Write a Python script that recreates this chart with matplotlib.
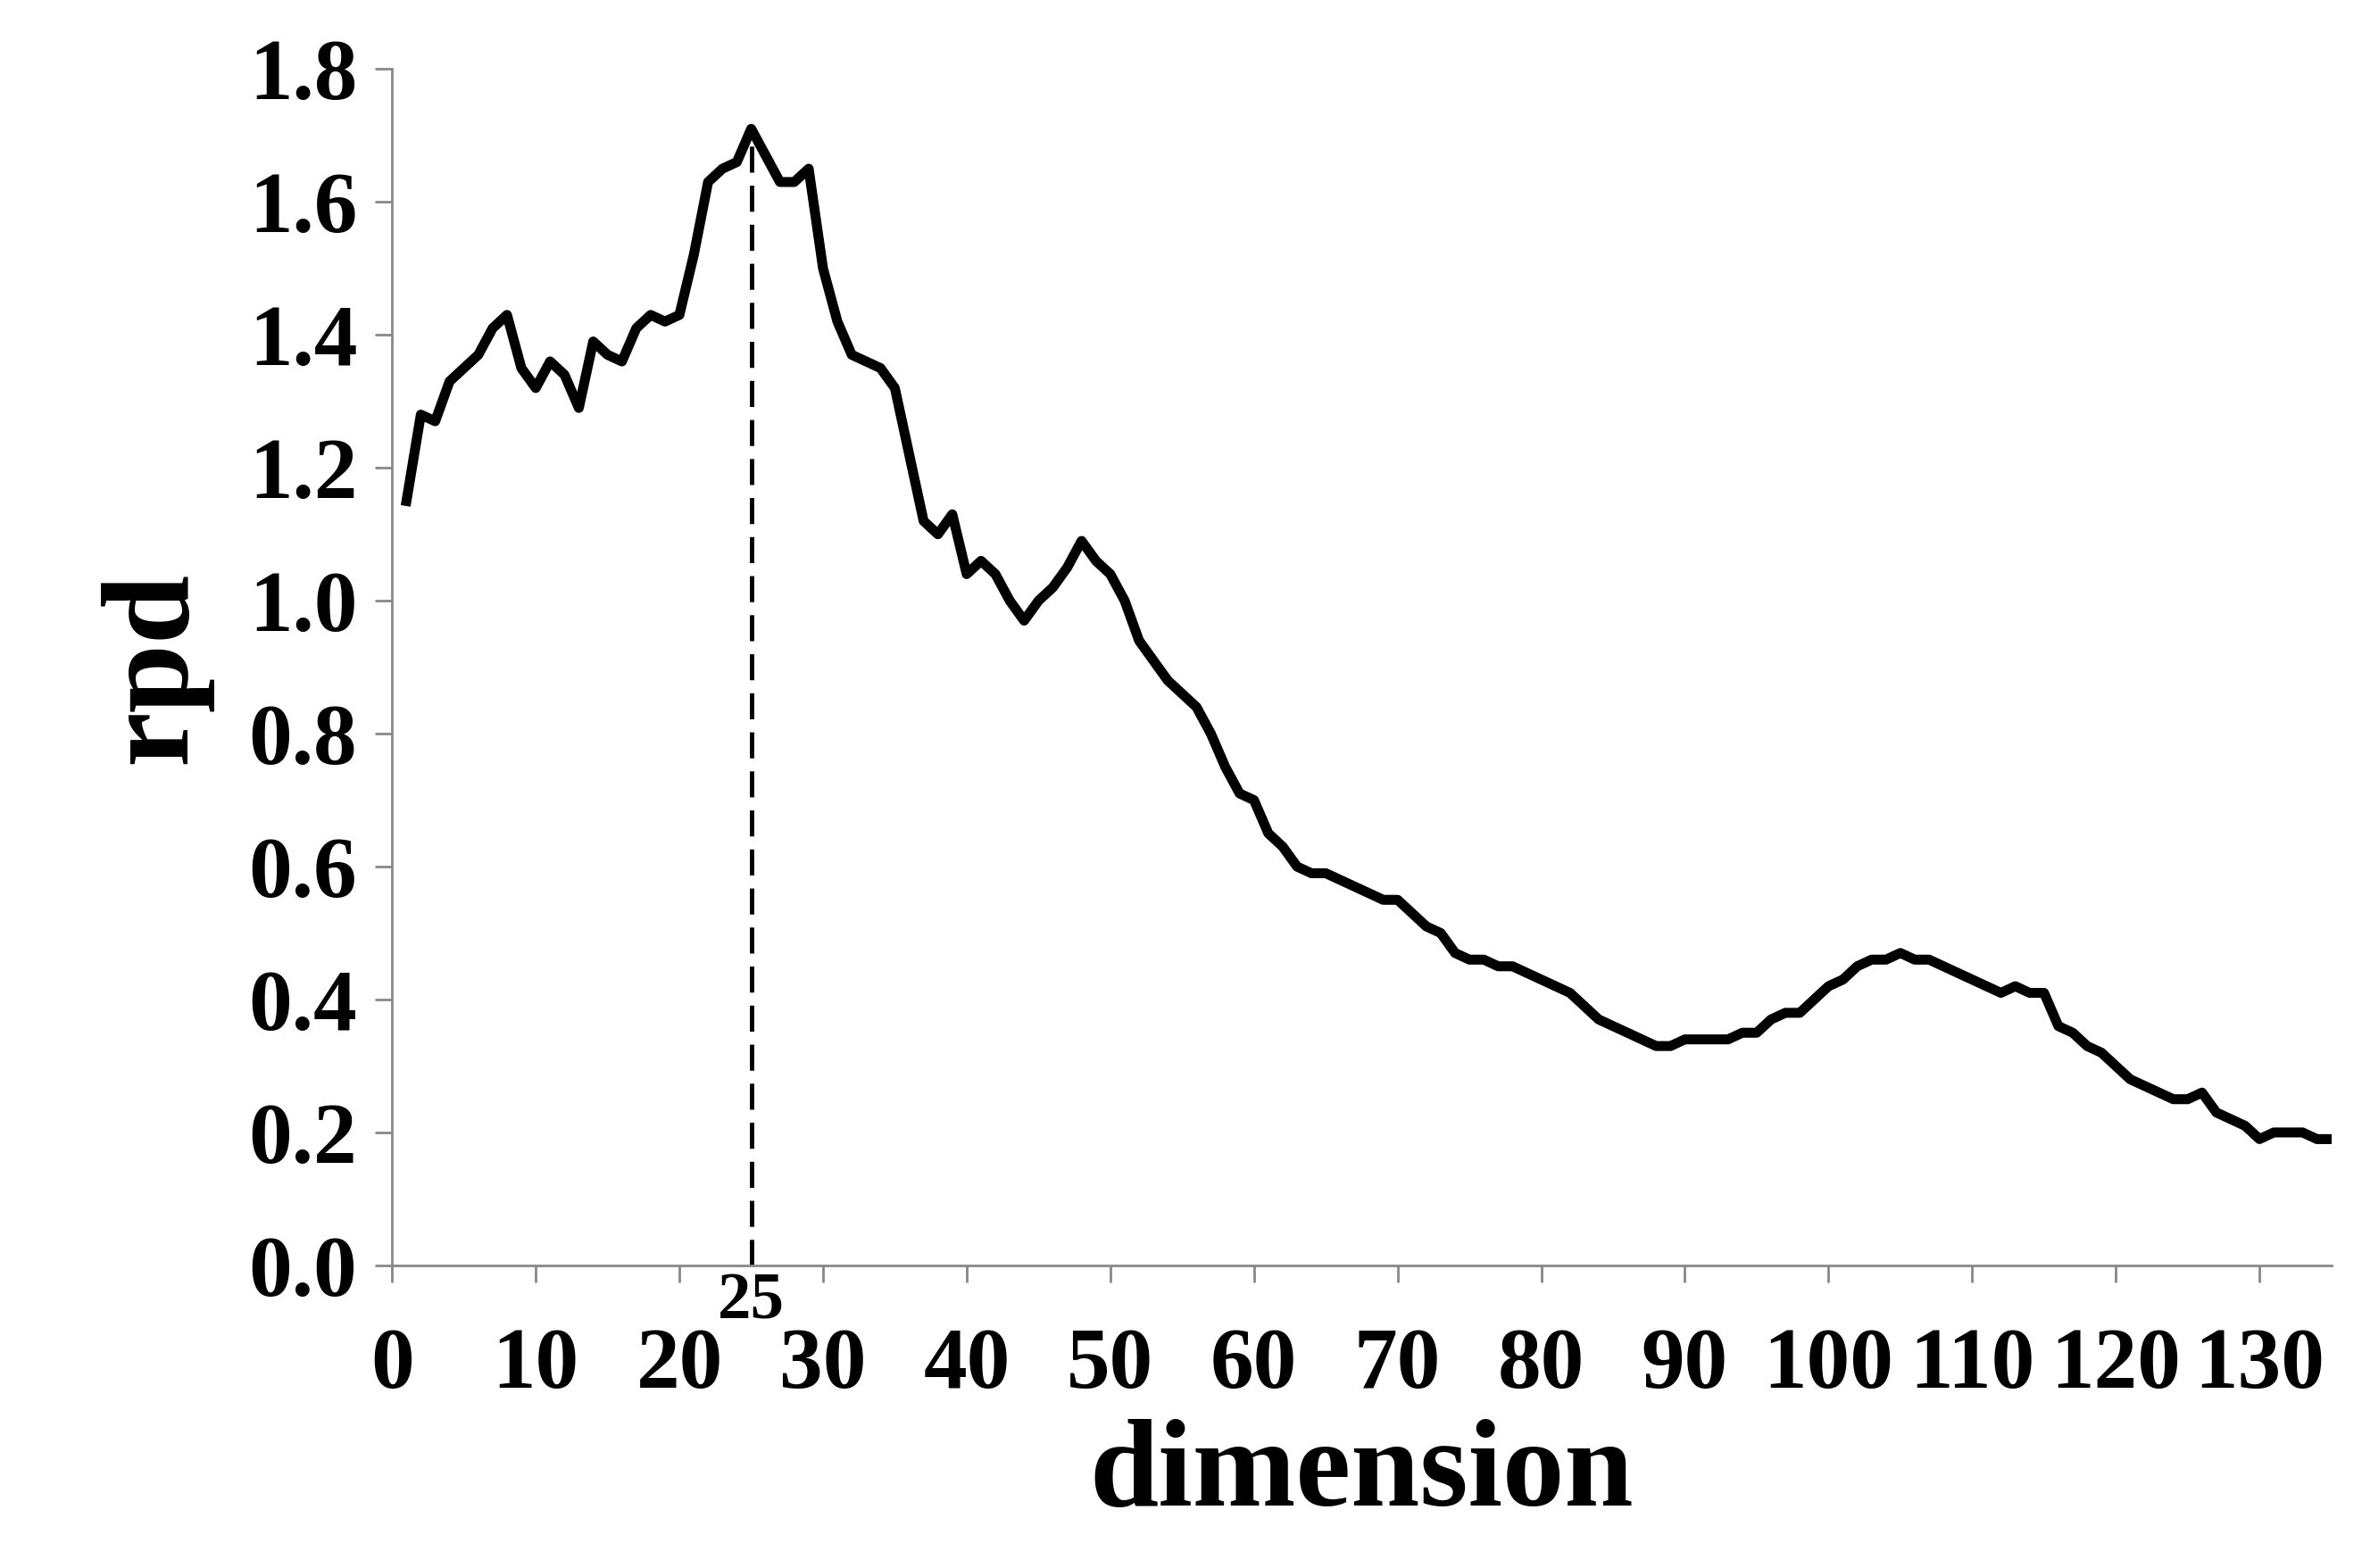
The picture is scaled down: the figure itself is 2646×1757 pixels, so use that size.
import matplotlib
matplotlib.use("Agg")
import matplotlib.pyplot as plt

dims = list(range(1, 136))
rpd = [1.15, 1.28, 1.27, 1.33, 1.35, 1.37, 1.41, 1.43, 1.35, 1.32,
       1.36, 1.34, 1.29, 1.39, 1.37, 1.36, 1.41, 1.43, 1.42, 1.43,
       1.52, 1.63, 1.65, 1.66, 1.71, 1.67, 1.63, 1.63, 1.65, 1.50,
       1.42, 1.37, 1.36, 1.35, 1.32, 1.22, 1.12, 1.10, 1.13, 1.04,
       1.06, 1.04, 1.00, 0.97, 1.00, 1.02, 1.05, 1.09, 1.06, 1.04,
       1.00, 0.94, 0.91, 0.88, 0.86, 0.84, 0.80, 0.75, 0.71, 0.70,
       0.65, 0.63, 0.60, 0.59, 0.59, 0.58, 0.57, 0.56, 0.55, 0.55,
       0.53, 0.51, 0.50, 0.47, 0.46, 0.46, 0.45, 0.45, 0.44, 0.43,
       0.42, 0.41, 0.39, 0.37, 0.36, 0.35, 0.34, 0.33, 0.33, 0.34,
       0.34, 0.34, 0.34, 0.35, 0.35, 0.37, 0.38, 0.38, 0.40, 0.42,
       0.43, 0.45, 0.46, 0.46, 0.47, 0.46, 0.46, 0.45, 0.44, 0.43,
       0.42, 0.41, 0.42, 0.41, 0.41, 0.36, 0.35, 0.33, 0.32, 0.30,
       0.28, 0.27, 0.26, 0.25, 0.25, 0.26, 0.23, 0.22, 0.21, 0.19,
       0.20, 0.20, 0.20, 0.19, 0.19]
best_dim = 25
best_rpd = 1.71

plt.rcParams["font.family"] = ["Liberation Serif", "DejaVu Serif"]
plt.rcParams["font.weight"] = "bold"

fig = plt.figure(figsize=(26.46, 17.57), dpi=100)
ax = fig.add_axes([0.166, 0.193, 0.821, 0.763])
ax.plot(dims, rpd, color="black", lw=8)
ax.plot([best_dim, best_dim], [0, best_rpd], color="black", lw=3.5, ls=(0, (6, 3)))
ax.text(best_dim, -0.01, str(best_dim), ha="center", va="top",
        fontsize=54, fontweight="bold")

ax.set_xlim(0, 135)
ax.set_ylim(0, 1.8)
ax.set_xticks(range(0, 131, 10))
ax.set_yticks([i / 5 for i in range(10)])
ax.set_yticklabels([f"{i / 5:.1f}" for i in range(10)])
ax.tick_params(axis="x", labelsize=70, length=14, width=2, color="#888888", pad=36)
ax.tick_params(axis="y", labelsize=70, length=14, width=2, color="#888888", pad=14)
for lab in ax.get_xticklabels() + ax.get_yticklabels():
    lab.set_fontweight("bold")
for s in ("top", "right"):
    ax.spines[s].set_visible(False)
for s in ("left", "bottom"):
    ax.spines[s].set_color("#888888")
    ax.spines[s].set_linewidth(2)

ax.set_xlabel("dimension", fontsize=100, fontweight="bold", labelpad=10)
ax.set_ylabel("rpd", fontsize=100, fontweight="bold", labelpad=30)

fig.savefig("out.png", dpi=100)
